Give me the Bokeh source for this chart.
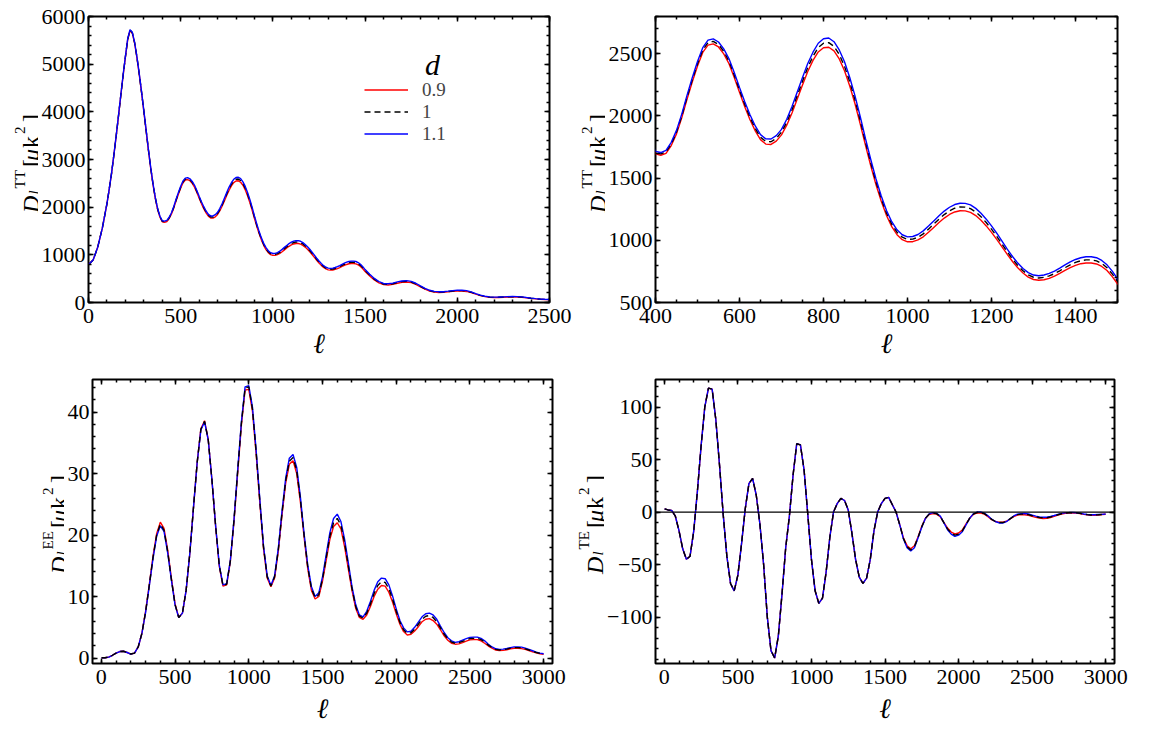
import math
from bokeh.plotting import figure
from bokeh.models import (Range1d, SingleIntervalTicker, LinearAxis, Label, Legend,
                          LegendItem, Span, ColumnDataSource)
from bokeh.layouts import row, column
from bokeh.embed import file_html
from bokeh.resources import INLINE

# ---------------- data ----------------
d_labels = ["0.9", "1", "1.1"]

# TT sampling grid (denser where the peaks are)
ell_tt = [2, 25, 50, 75] + [100 + 12.5 * i for i in range(113)] + list(range(1525, 2501, 25))
tt_09 = [800, 890, 1160, 1560,
         2068, 2377, 2706, 3085, 3485, 3903, 4333, 4752,
         5140, 5510, 5705, 5650, 5440, 5140, 4790, 4410,
         4010, 3600, 3190, 2810, 2470, 2180, 1950, 1790,
         1695, 1684, 1700, 1762, 1856, 1985, 2134, 2273,
         2402, 2511, 2570, 2580, 2555, 2500, 2420, 2310,
         2190, 2075, 1970, 1880, 1810, 1774, 1771, 1798,
         1848, 1926, 2024, 2137, 2250, 2358, 2447, 2515,
         2549, 2553, 2523, 2459, 2364, 2241, 2098, 1935,
         1763, 1600, 1447, 1314, 1200, 1110, 1045, 1005,
         988, 989, 1003, 1028, 1065, 1104, 1143, 1179,
         1208, 1228, 1238, 1237, 1225, 1199, 1162, 1116,
         1064, 1007, 947, 887, 830, 779, 737, 704,
         685, 679, 683, 694, 712, 734, 758, 780,
         798, 812, 818, 818, 810, 790, 757, 708,
         650,
         558, 475, 412, 376, 368, 380, 404, 424, 431,
         416, 380, 327, 279, 240, 219, 211, 213, 222, 234,
         242, 242, 232, 209, 176, 145, 123, 109, 104, 106,
         111, 116, 118, 116, 109, 98, 86, 75, 68, 63,
         60]
tt_10 = [800, 890, 1160, 1560,
         2070, 2380, 2710, 3090, 3490, 3910, 4340, 4760,
         5150, 5520, 5715, 5660, 5450, 5150, 4800, 4420,
         4020, 3610, 3200, 2820, 2480, 2190, 1960, 1800,
         1705, 1695, 1712, 1775, 1870, 2000, 2150, 2290,
         2420, 2530, 2590, 2600, 2575, 2520, 2440, 2330,
         2210, 2095, 1990, 1900, 1830, 1795, 1793, 1820,
         1870, 1950, 2050, 2165, 2280, 2390, 2480, 2550,
         2585, 2590, 2560, 2495, 2400, 2275, 2130, 1965,
         1790, 1625, 1470, 1335, 1220, 1130, 1065, 1025,
         1008, 1010, 1025, 1052, 1090, 1130, 1170, 1207,
         1237, 1258, 1268, 1267, 1255, 1228, 1190, 1143,
         1090, 1032, 970, 908, 850, 798, 755, 722,
         703, 697, 702, 714, 732, 755, 780, 803,
         822, 836, 843, 843, 835, 814, 780, 730,
         670,
         575, 490, 425, 388, 380, 393, 418, 438, 445,
         430, 392, 338, 288, 248, 226, 218, 220, 230, 242,
         250, 250, 240, 216, 182, 150, 127, 113, 108, 110,
         115, 120, 122, 120, 113, 101, 89, 78, 70, 65,
         62]
tt_11 = [800, 890, 1160, 1560,
         2072, 2383, 2714, 3095, 3495, 3917, 4347, 4768,
         5160, 5530, 5725, 5670, 5460, 5160, 4810, 4430,
         4030, 3620, 3210, 2830, 2490, 2200, 1970, 1810,
         1715, 1706, 1724, 1788, 1884, 2015, 2166, 2307,
         2438, 2549, 2610, 2620, 2595, 2540, 2460, 2350,
         2230, 2115, 2010, 1920, 1850, 1816, 1815, 1842,
         1892, 1974, 2076, 2193, 2310, 2422, 2513, 2585,
         2621, 2627, 2597, 2531, 2436, 2309, 2162, 1995,
         1817, 1650, 1493, 1356, 1240, 1150, 1085, 1045,
         1028, 1031, 1047, 1076, 1115, 1156, 1197, 1235,
         1266, 1288, 1298, 1297, 1285, 1257, 1218, 1170,
         1116, 1057, 993, 929, 870, 817, 773, 740,
         721, 715, 721, 734, 752, 776, 802, 826,
         846, 860, 868, 868, 860, 838, 803, 752,
         690,
         592, 505, 438, 400, 392, 406, 432, 452, 459,
         444, 404, 349, 297, 256, 233, 225, 227, 238, 250,
         258, 258, 248, 223, 188, 155, 131, 117, 112, 114,
         119, 124, 126, 124, 117, 104, 92, 81, 72, 67,
         64]

ell_pol = [2] + list(range(25, 3001, 25))
ee_09 = [0.05, 0.05, 0.15, 0.45, 0.8, 1.05, 1.1, 0.9, 0.65, 0.8,
         1.8, 4.0, 7.6, 11.9, 16.5, 20.2, 22.1, 21.1, 17.6, 13.0,
         8.8, 6.6, 7.3, 11.0, 17.0, 24.5, 31.8, 37.3, 38.6, 35.5,
         29.0, 21.4, 14.9, 11.7, 11.9, 15.7, 22.3, 30.2, 37.9, 43.6,
         43.7, 40.1, 33.2, 25.2, 17.8, 13.0, 11.6, 13.0, 17.3, 23.2,
         28.4, 31.5, 32.1, 30.0, 25.4, 19.7, 14.5, 11.0, 9.6, 10.0,
         12.5, 15.9, 19.3, 21.4, 22.0, 21.0, 18.1, 14.5, 11.0, 8.1,
         6.6, 6.3, 7.0, 8.4, 10.0, 11.2, 11.8, 11.7, 10.7, 9.1,
         7.2, 5.5, 4.3, 3.75, 3.85, 4.4, 5.1, 5.9, 6.3, 6.4,
         6.1, 5.5, 4.6, 3.6, 2.9, 2.4, 2.25, 2.3, 2.5, 2.75,
         2.95, 3.0, 3.0, 2.8, 2.4, 1.95, 1.6, 1.3, 1.2, 1.25,
         1.35, 1.5, 1.58, 1.58, 1.53, 1.4, 1.2, 1.02, 0.84, 0.7,
         0.6]
ee_10 = [0.05, 0.05, 0.15, 0.45, 0.8, 1.05, 1.1, 0.9, 0.65, 0.8,
         1.8, 4.0, 7.5, 11.8, 16.3, 20.0, 21.8, 20.8, 17.3, 12.8,
         8.7, 6.6, 7.3, 11.0, 17.0, 24.5, 31.8, 37.2, 38.5, 35.5,
         29.0, 21.5, 15.0, 11.8, 12.0, 15.8, 22.5, 30.5, 38.2, 43.9,
         44.1, 40.5, 33.5, 25.5, 18.0, 13.2, 11.7, 13.2, 17.5, 23.5,
         28.8, 32.0, 32.6, 30.5, 25.8, 20.0, 14.8, 11.3, 9.8, 10.3,
         12.8, 16.3, 19.8, 22.0, 22.7, 21.6, 18.7, 15.0, 11.3, 8.4,
         6.8, 6.5, 7.3, 8.8, 10.5, 11.8, 12.4, 12.3, 11.3, 9.6,
         7.6, 5.8, 4.6, 4.0, 4.1, 4.7, 5.5, 6.3, 6.8, 6.9,
         6.6, 5.9, 4.9, 3.9, 3.1, 2.6, 2.4, 2.5, 2.7, 2.95,
         3.15, 3.2, 3.2, 3.0, 2.6, 2.1, 1.7, 1.4, 1.3, 1.35,
         1.45, 1.6, 1.7, 1.7, 1.65, 1.5, 1.3, 1.1, 0.9, 0.75,
         0.65]
ee_11 = [0.05, 0.05, 0.15, 0.45, 0.8, 1.05, 1.1, 0.9, 0.65, 0.8,
         1.8, 4.0, 7.4, 11.7, 16.1, 19.8, 21.5, 20.6, 17.1, 12.7,
         8.6, 6.6, 7.3, 11.0, 17.0, 24.5, 31.8, 37.1, 38.4, 35.5,
         29.0, 21.6, 15.1, 11.9, 12.1, 15.9, 22.6, 30.7, 38.4, 44.1,
         44.3, 40.8, 33.8, 25.8, 18.2, 13.4, 11.8, 13.4, 17.8, 23.8,
         29.2, 32.5, 33.1, 31.0, 26.2, 20.3, 15.1, 11.6, 10.0, 10.6,
         13.2, 16.8, 20.4, 22.7, 23.4, 22.2, 19.3, 15.5, 11.6, 8.7,
         7.0, 6.7, 7.6, 9.2, 11.0, 12.4, 13.0, 12.9, 11.9, 10.1,
         8.0, 6.1, 4.9, 4.25, 4.35, 5.0, 5.85, 6.7, 7.2, 7.3,
         7.0, 6.3, 5.2, 4.15, 3.3, 2.8, 2.55, 2.65, 2.9, 3.15,
         3.35, 3.4, 3.4, 3.2, 2.8, 2.25, 1.8, 1.5, 1.4, 1.45,
         1.55, 1.7, 1.82, 1.82, 1.77, 1.6, 1.4, 1.18, 0.96, 0.8,
         0.7]

te_09 = [3.0, 2.0, 1.5, -4, -18, -35, -45, -42, -18, 20,
         63, 100, 118, 117, 88, 45, -2, -42, -68, -75,
         -60, -30, 3, 27, 32, 16, -12, -50, -100, -132,
         -139, -118, -78, -34, -4, 35, 65, 64, 40, -2,
         -45, -75, -87, -82, -57, -24, 0, 8, 13, 11,
         2, -20, -45, -62, -68, -63, -45, -18, 0, 8,
         13, 14, 7, 0, -12, -24.5, -32, -35, -32, -23.5,
         -13.5, -6, -2.3, -1.5, -2, -4.3, -9.8, -15.2, -19, -20.8,
         -20, -17.2, -11.5, -6, -2.3, -1, -1, -2, -4.4, -7.2,
         -9, -9.6, -9.6, -8.8, -6.6, -4.3, -2.9, -2.5, -2.6, -3.1,
         -4.1, -5.1, -5.8, -6.1, -5.9, -5.2, -4.1, -2.9, -1.9, -1.2,
         -0.9, -0.8, -1.0, -1.5, -2.2, -2.7, -3.0, -3.0, -2.8, -2.4,
         -2.1]
te_10 = [3.0, 2.0, 1.5, -4, -18, -35, -45, -42, -18, 20,
         63, 100, 118, 117, 88, 45, -2, -42, -68, -75,
         -60, -30, 3, 27, 32, 16, -12, -50, -100, -132,
         -139, -118, -78, -34, -4, 35, 65, 64, 40, -2,
         -45, -75, -87, -82, -57, -24, 0, 8, 13, 11,
         2, -20, -45, -62, -68, -63, -45, -18, 0, 8,
         13, 14, 7, 0, -12, -25, -33, -36, -33, -24,
         -14, -6, -2, -1, -1.5, -4, -10, -16, -20, -22,
         -21, -18, -12, -6, -2, -0.5, -0.5, -1.5, -4, -7,
         -9, -10, -10, -9, -6.5, -4, -2.5, -2, -2, -2.5,
         -3.5, -4.5, -5.2, -5.5, -5.4, -4.7, -3.7, -2.6, -1.6, -1,
         -0.7, -0.6, -0.8, -1.3, -2, -2.5, -2.8, -2.8, -2.6, -2.3,
         -2.0]
te_11 = [3.0, 2.0, 1.5, -4, -18, -35, -45, -42, -18, 20,
         63, 100, 118, 117, 88, 45, -2, -42, -68, -75,
         -60, -30, 3, 27, 32, 16, -12, -50, -100, -132,
         -139, -118, -78, -34, -4, 35, 65, 64, 40, -2,
         -45, -75, -87, -82, -57, -24, 0, 8, 13, 11,
         2, -20, -45, -62, -68, -63, -45, -18, 0, 8,
         13, 14, 7, 0, -12, -25.5, -34, -37, -34, -24.5,
         -14.5, -6, -1.7, -0.5, -1, -3.7, -10.2, -16.8, -21, -23.2,
         -22, -18.8, -12.5, -6, -1.7, 0, 0, -1, -3.6, -6.8,
         -9, -10.4, -10.4, -9.2, -6.4, -3.7, -2.1, -1.5, -1.4, -1.9,
         -2.9, -3.9, -4.6, -4.9, -4.9, -4.2, -3.3, -2.3, -1.3, -0.8,
         -0.5, -0.4, -0.6, -1.1, -1.8, -2.3, -2.6, -2.6, -2.4, -2.2,
         -1.9]
te_zero = 0

assert len(ell_tt) == len(tt_09) == len(tt_10) == len(tt_11)
assert len(ell_pol) == len(ee_09) == len(ee_10) == len(ee_11) == len(te_09) == len(te_10) == len(te_11)

# ---------------- styling helpers ----------------
FONT = "Liberation Serif"
RED, BLACK, BLUE = "#ff0000", "#000000", "#0000ff"


def style_axis(ax, ticker, labels=True, standoff=3):
    ax.ticker = ticker
    ax.axis_line_color = None
    ax.major_tick_in = 5
    ax.major_tick_out = 0
    ax.minor_tick_in = 3
    ax.minor_tick_out = 0
    ax.major_tick_line_color = "black"
    ax.minor_tick_line_color = "black"
    ax.major_tick_line_width = 1.5
    ax.minor_tick_line_width = 1.5
    if labels:
        ax.major_label_text_font = FONT
        ax.major_label_text_font_size = "22px"
        ax.major_label_text_color = "black"
        ax.major_label_standoff = standoff
    else:
        ax.major_label_text_font_size = "0px"
        ax.major_label_text_color = None
        ax.major_label_standoff = 0


def make_fig(xr, yr, fw, fh, L, R, T, B, xtick, ytick, xl_standoff):
    p = figure(x_range=Range1d(*xr), y_range=Range1d(*yr),
               frame_width=fw, frame_height=fh,
               min_border_left=L, min_border_right=R,
               min_border_top=T, min_border_bottom=B,
               output_backend="svg", toolbar_location=None,
               background_fill_color="white", border_fill_color="white",
               outline_line_color="black", outline_line_width=2)
    p.xgrid.visible = False
    p.ygrid.visible = False
    style_axis(p.xaxis[0], SingleIntervalTicker(interval=xtick[0], num_minor_ticks=xtick[1]), standoff=6)
    style_axis(p.yaxis[0], SingleIntervalTicker(interval=ytick[0], num_minor_ticks=ytick[1]), standoff=3)
    xa = p.xaxis[0]
    xa.axis_label = "ℓ"
    xa.axis_label_text_font = FONT
    xa.axis_label_text_font_style = "italic"
    xa.axis_label_text_font_size = "28px"
    xa.axis_label_text_color = "black"
    xa.axis_label_standoff = xl_standoff
    top = LinearAxis()
    style_axis(top, SingleIntervalTicker(interval=xtick[0], num_minor_ticks=xtick[1]), labels=False)
    p.add_layout(top, "above")
    right = LinearAxis()
    style_axis(right, SingleIntervalTicker(interval=ytick[0], num_minor_ticks=ytick[1]), labels=False)
    p.add_layout(right, "right")
    return p


def label_fig(w, h):
    f = figure(width=w, height=h, x_range=Range1d(0, 1), y_range=Range1d(0, 1),
               min_border=0, x_axis_type=None, y_axis_type=None,
               toolbar_location=None, output_backend="svg",
               outline_line_color=None, background_fill_color="white",
               border_fill_color="white")
    return f


def txt(p, x, y, text, size, style="normal", align="left", baseline="alphabetic", angle=0.0):
    p.add_layout(Label(x=x, y=y, x_units="screen", y_units="screen", text=text,
                       text_font=FONT, text_font_size=f"{size}px", text_font_style=style,
                       text_align=align, text_baseline=baseline, angle=angle,
                       text_color="black"))


# advance widths (em) of the label pieces in a Times-metric serif
EM = {"D": 0.722, "l": 0.278, "TT": 1.222, "EE": 1.222, "TE": 1.222,
      "[": 0.333, "μ": 0.5, "k": 0.5, "2": 0.5, "]": 0.333}


def piece(f, W, x, start, text, size, style):
    """Rotated (bottom-to-top) text piece that starts at `start` (upwards)."""
    w = EM[text] * size
    if x - w >= 0:
        txt(f, x, start + w, text, size, style, align="right", angle=math.pi / 2)
    else:
        txt(f, x, start, text, size, style, align="left", angle=math.pi / 2)


def ylabel(f, W, sup, xbase, cy):
    piece(f, W, xbase, cy - 53.5, "D", 24, "italic")
    piece(f, W, xbase + 3, cy - 35, "l", 15, "italic")
    piece(f, W, xbase - 11, cy - 29, sup, 15, "normal")
    piece(f, W, xbase, cy - 7.5, "[", 24, "normal")
    piece(f, W, xbase, cy - 1.5, "μ", 24, "italic")
    piece(f, W, xbase, cy + 11.5, "k", 24, "normal")
    piece(f, W, xbase - 11, cy + 25.5, "2", 15, "normal")
    piece(f, W, xbase, cy + 37.5, "]", 24, "normal")


# ---------------- panel 1: TT full ----------------
src_tt = ColumnDataSource(dict(ell=ell_tt, a=tt_09, b=tt_10, c=tt_11))
p1 = make_fig((0, 2500), (0, 6000), 461, 286, 48, 26, 16, 62, (500, 5), (1000, 5), 2)
r1a = p1.line("ell", "a", source=src_tt, line_color=RED, line_width=1.4)
r1b = p1.line("ell", "b", source=src_tt, line_color=BLACK, line_width=1.4, line_dash="6 4")
r1c = p1.line("ell", "c", source=src_tt, line_color=BLUE, line_width=1.4)
legend = Legend(items=[LegendItem(label=d_labels[0], renderers=[r1a]),
                       LegendItem(label=d_labels[1], renderers=[r1b]),
                       LegendItem(label=d_labels[2], renderers=[r1c])],
                location=(276, 157.5), padding=0, margin=0, spacing=0,
                glyph_width=44, glyph_height=21, label_height=21, label_standoff=14,
                label_text_font=FONT, label_text_font_size="19px",
                border_line_alpha=0, background_fill_alpha=0)
p1.add_layout(legend)
txt(p1, 344, 238, "d", 30, "italic", align="center")
lab1 = label_fig(38, 364)
ylabel(lab1, 38, "TT", 30, 143)

# ---------------- panel 2: TT zoom ----------------
p2 = make_fig((400, 1500), (500, 2800), 462, 286, 48, 30, 16, 62, (200, 4), (500, 5), 2)
p2.line("ell", "a", source=src_tt, line_color=RED, line_width=1.4)
p2.line("ell", "b", source=src_tt, line_color=BLACK, line_width=1.4, line_dash="6 4")
p2.line("ell", "c", source=src_tt, line_color=BLUE, line_width=1.4)
lab2 = label_fig(30, 364)
ylabel(lab2, 30, "TT", 22, 143)

# ---------------- panel 3: EE ----------------
src_ee = ColumnDataSource(dict(ell=ell_pol, a=ee_09, b=ee_10, c=ee_11))
p3 = make_fig((-60, 3060), (-0.89, 45.3), 460, 284, 28, 20, 15, 62, (500, 5), (10, 5), 6)
p3.line("ell", "a", source=src_ee, line_color=RED, line_width=1.4)
p3.line("ell", "c", source=src_ee, line_color=BLUE, line_width=1.4)
p3.line("ell", "b", source=src_ee, line_color=BLACK, line_width=1.4, line_dash="6 4")
lab3 = label_fig(64, 361)
ylabel(lab3, 64, "EE", 58, 142)

# ---------------- panel 4: TE ----------------
src_te = ColumnDataSource(dict(ell=ell_pol, a=te_09, b=te_10, c=te_11))
p4 = make_fig((-60, 3060), (-144.2, 126.2), 459, 284, 49, 30, 15, 62, (500, 5), (50, 5), 6)
p4.yaxis[0].major_label_overrides = {-100: "−100", -50: "−50"}
p4.add_layout(Span(location=te_zero, dimension="width", line_color="black", line_width=1.2))
p4.line("ell", "a", source=src_te, line_color=RED, line_width=1.4)
p4.line("ell", "c", source=src_te, line_color=BLUE, line_width=1.4)
p4.line("ell", "b", source=src_te, line_color=BLACK, line_width=1.4, line_dash="6 4")
lab4 = label_fig(32, 361)
ylabel(lab4, 32, "TE", 22, 142)

layout = column(row(lab1, p1, lab2, p2), row(lab3, p3, lab4, p4))
open("out.html", "w").write(file_html(layout, INLINE))
